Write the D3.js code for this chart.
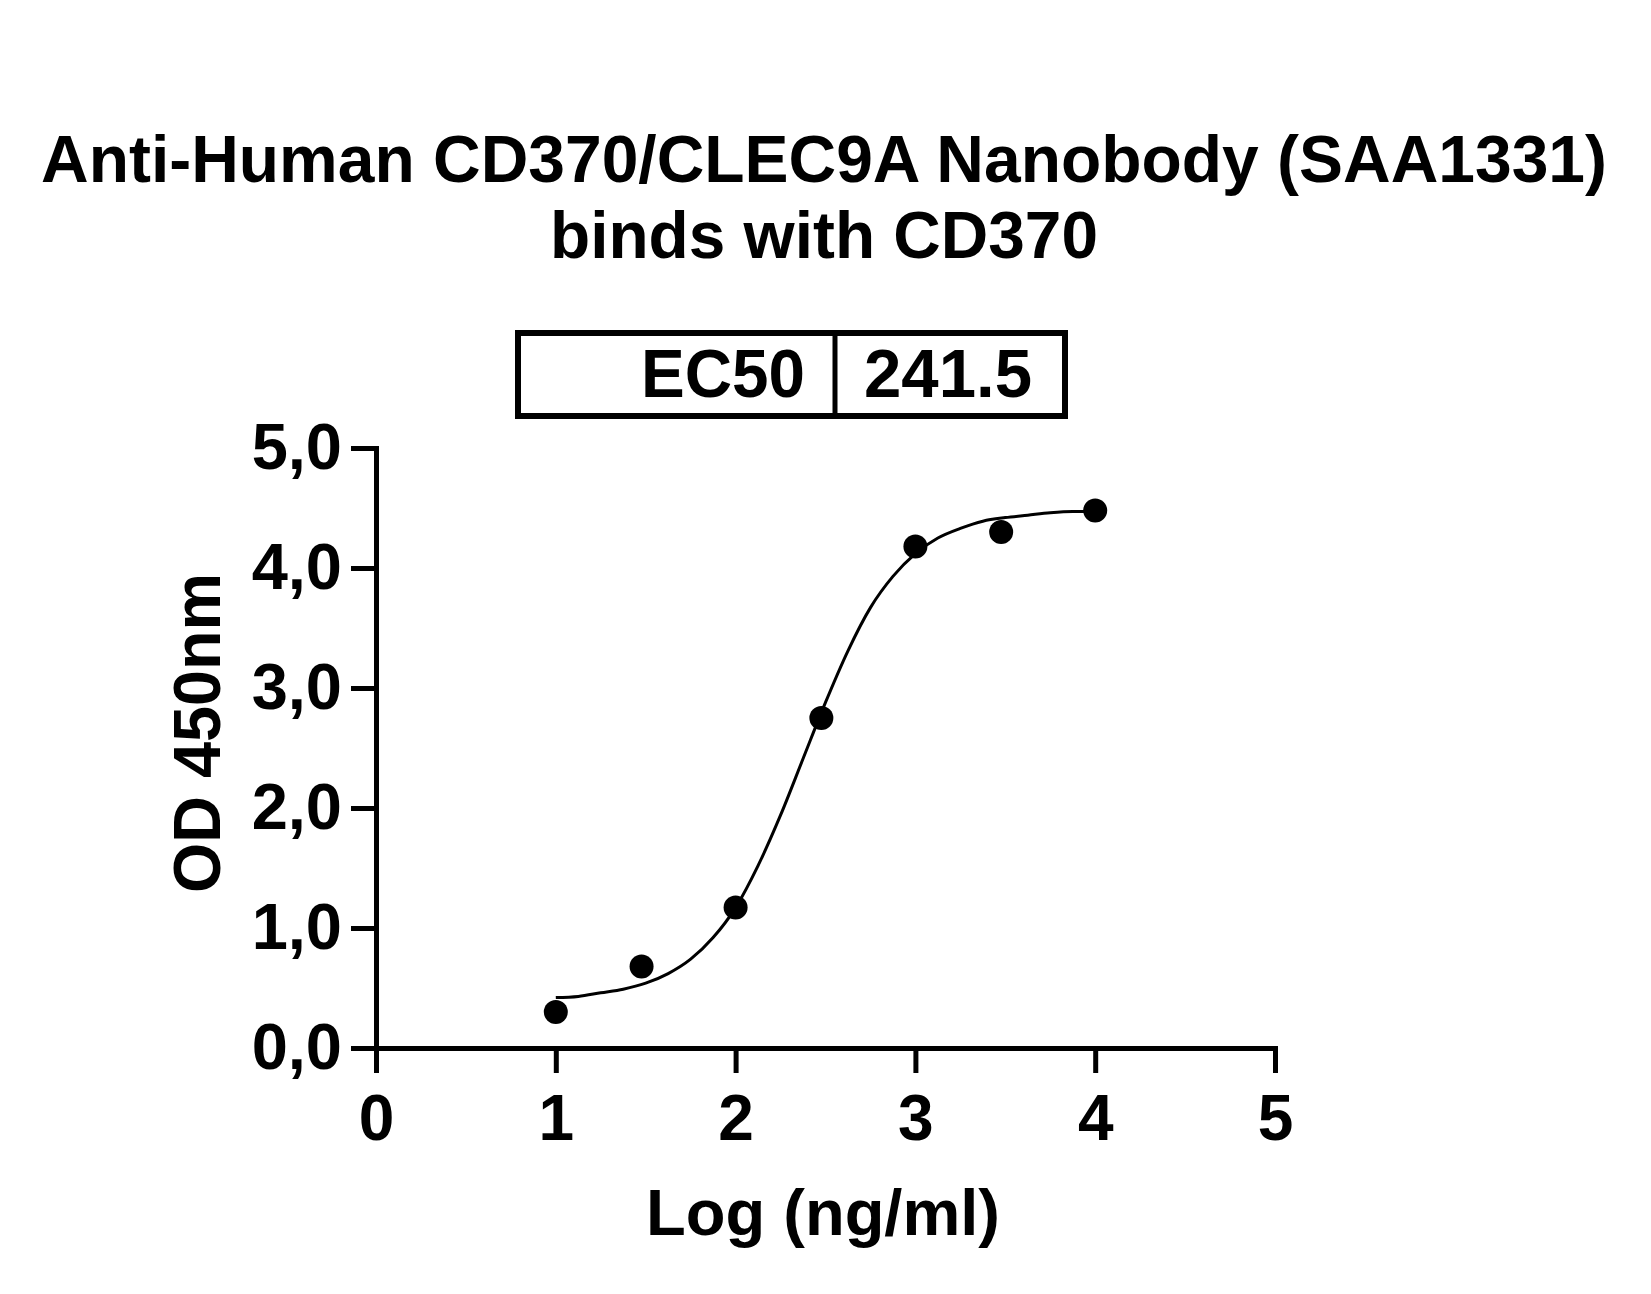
<!DOCTYPE html>
<html>
<head>
<meta charset="utf-8">
<script src="https://cdn.jsdelivr.net/npm/d3@7"></script>
<style>
  html, body { margin: 0; padding: 0; background: #fff; }
  svg text { font-family: 'Liberation Sans', Arial, sans-serif; font-weight: bold; fill: #000; }
  .axis path, .axis line { stroke: #000; stroke-width: 5; }
  .axis path { stroke-linecap: square; }
</style>
</head>
<body>
<svg id="chart"></svg>
<script>
// ELISA binding curve, OD450 vs log concentration

// measured points (x = log10 ng/ml)
let logConc = [1, 1.477, 2, 2.477, 3, 3.477, 4];
let od450 = [0.30, 0.68, 1.17, 2.75, 4.18, 4.30, 4.48];

// fitted curve
let fitX = [1, 1.125, 1.25, 1.375, 1.5, 1.625, 1.75, 1.875, 2, 2.125, 2.25, 2.375,
            2.5, 2.625, 2.75, 2.875, 3, 3.125, 3.25, 3.375, 3.5, 3.625, 3.75, 3.875, 4];
let fitY = [0.42, 0.43, 0.46, 0.49, 0.54, 0.62, 0.74, 0.92, 1.17, 1.52, 1.94, 2.41,
            2.88, 3.31, 3.67, 3.93, 4.12, 4.25, 4.33, 4.39, 4.42, 4.44, 4.46, 4.47, 4.47];

let xTicks = [0, 1, 2, 3, 4, 5];
let yTicks = [0, 1, 2, 3, 4, 5];
let ec50Label = 'EC50';
let ec50Value = '241.5';
let titleLines = ['Anti-Human CD370/CLEC9A Nanobody (SAA1331)', 'binds with CD370'];

let W = 1651, H = 1294;

let svg = d3.select('#chart')
  .attr('width', W)
  .attr('height', H);

let xScale = d3.scaleLinear().domain([0, 5]).range([376, 1275]);
let yScale = d3.scaleLinear().domain([0, 5]).range([1048, 448]);

// title
svg.append('text')
  .attr('x', 824).attr('y', 182)
  .attr('text-anchor', 'middle')
  .style('font-size', '66px')
  .attr('textLength', 1566)
  .attr('lengthAdjust', 'spacingAndGlyphs')
  .text(titleLines[0]);
svg.append('text')
  .attr('x', 824).attr('y', 258)
  .attr('text-anchor', 'middle')
  .style('font-size', '66px')
  .attr('textLength', 548)
  .attr('lengthAdjust', 'spacingAndGlyphs')
  .text(titleLines[1]);

// EC50 table
svg.append('rect')
  .attr('x', 518).attr('y', 333)
  .attr('width', 547).attr('height', 83)
  .attr('fill', 'none')
  .attr('stroke', '#000')
  .attr('stroke-width', 6);
svg.append('line')
  .attr('x1', 835).attr('x2', 835)
  .attr('y1', 333).attr('y2', 416)
  .attr('stroke', '#000')
  .attr('stroke-width', 5);
svg.append('text')
  .attr('x', 805).attr('y', 397)
  .attr('text-anchor', 'end')
  .style('font-size', '68px')
  .attr('textLength', 164)
  .attr('lengthAdjust', 'spacingAndGlyphs')
  .text(ec50Label);
svg.append('text')
  .attr('x', 864).attr('y', 397)
  .style('font-size', '68px')
  .attr('textLength', 168)
  .attr('lengthAdjust', 'spacingAndGlyphs')
  .text(ec50Value);

// axes
let xAxis = d3.axisBottom(xScale)
  .tickValues(xTicks)
  .tickFormat(d3.format('d'))
  .tickSize(25)
  .tickSizeOuter(0)
  .tickPadding(22);
let xAxisGroup = svg.append('g')
  .attr('class', 'axis')
  .attr('transform', `translate(0, ${yScale(0)})`)
  .call(xAxis);
xAxisGroup.selectAll('text').style('font-size', '64px');

let yAxis = d3.axisLeft(yScale)
  .tickValues(yTicks)
  .tickFormat((d) => d.toFixed(1).replace('.', ','))
  .tickSize(25)
  .tickSizeOuter(0)
  .tickPadding(9);
let yAxisGroup = svg.append('g')
  .attr('class', 'axis')
  .attr('transform', `translate(${xScale(0)}, 0)`)
  .call(yAxis);
yAxisGroup.selectAll('text').style('font-size', '65px');

// axis titles
svg.append('text')
  .attr('x', 823).attr('y', 1235)
  .attr('text-anchor', 'middle')
  .style('font-size', '64px')
  .attr('textLength', 354)
  .attr('lengthAdjust', 'spacingAndGlyphs')
  .text('Log (ng/ml)');

svg.append('text')
  .attr('transform', 'translate(220, 733) rotate(-90)')
  .attr('text-anchor', 'middle')
  .style('font-size', '66px')
  .attr('textLength', 320)
  .attr('lengthAdjust', 'spacingAndGlyphs')
  .text('OD 450nm');

// fit curve
let line = d3.line()
  .x((d, i) => xScale(fitX[i]))
  .y((d) => yScale(d))
  .curve(d3.curveMonotoneX);
svg.append('path')
  .datum(fitY)
  .attr('d', line)
  .attr('fill', 'none')
  .attr('stroke', '#000')
  .attr('stroke-width', 3);

// points
svg.selectAll('circle.pt')
  .data(od450)
  .enter()
  .append('circle')
  .attr('class', 'pt')
  .attr('cx', (d, i) => xScale(logConc[i]))
  .attr('cy', (d) => yScale(d))
  .attr('r', 12)
  .attr('fill', '#000');
</script>
</body>
</html>
